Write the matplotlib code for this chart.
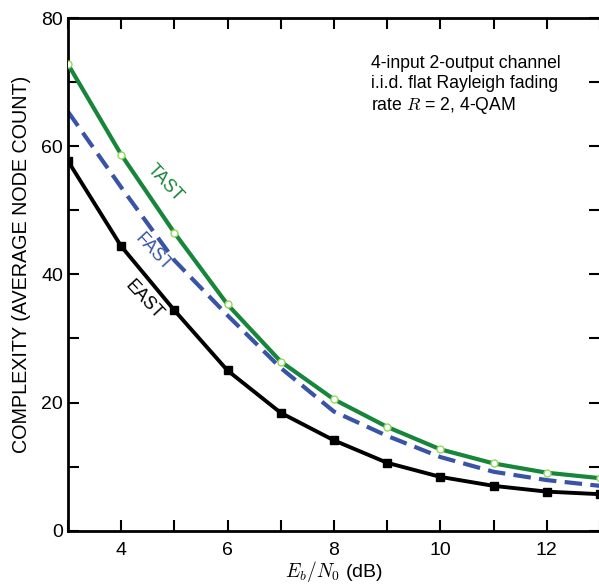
import numpy as np
import matplotlib
matplotlib.use("Agg")
import matplotlib.pyplot as plt
from matplotlib.ticker import MultipleLocator

plt.rcParams['font.family'] = ['Liberation Sans', 'DejaVu Sans']
plt.rcParams['mathtext.fontset'] = 'cm'

# Eb/N0 (dB)
snr_db = [3, 4, 5, 6, 7, 8, 9, 10, 11, 12, 13]
# average node count per detector
tast = [72.8, 58.7, 46.5, 35.3, 26.4, 20.5, 16.2, 12.7, 10.5, 9.05, 8.2]
fast = [65.4, 53.6, 42.2, 33.6, 25.4, 18.6, 14.8, 11.5, 9.2, 7.9, 7.0]
east = [57.7, 44.4, 34.4, 25.0, 18.4, 14.1, 10.6, 8.4, 7.0, 6.1, 5.7]

green = '#17853a'
blue = '#3953a6'

fig = plt.figure(figsize=(5.99, 5.85), dpi=100)
ax = fig.add_axes([0.1134, 0.0928, 0.8881, 0.8764])

ax.plot(snr_db, tast, color=green, lw=3.0, marker='o', ms=5,
        mfc='white', mec='#8fdc5a', mew=1.0, zorder=3)
ax.plot(snr_db, fast, color=blue, lw=3.0, dashes=(4.2, 2.0), zorder=2)
ax.plot(snr_db, east, color='black', lw=2.8, marker='s', ms=5.5,
        mfc='black', mec='black', zorder=2)

ax.text(4.83, 54.2, 'TAST', color=green, fontsize=13, rotation=-47,
        ha='center', va='center')
ax.text(4.61, 43.5, 'FAST', color=blue, fontsize=13, rotation=-47,
        ha='center', va='center')
ax.text(4.42, 36.0, 'EAST', color='black', fontsize=13, rotation=-47,
        ha='center', va='center')

ax.text(8.70, 74.2, '4-input 2-output channel\ni.i.d. flat Rayleigh fading\nrate $R$ = 2, 4-QAM',
        fontsize=12.7, va='top', ha='left', linespacing=1.2)

ax.set_xlim(3, 13)
ax.set_ylim(0, 80)
ax.xaxis.set_major_locator(MultipleLocator(2))
ax.xaxis.set_minor_locator(MultipleLocator(1))
ax.yaxis.set_major_locator(MultipleLocator(20))
ax.yaxis.set_minor_locator(MultipleLocator(10))
ax.tick_params(which='both', direction='in', top=True, right=True,
               width=1.5, length=8, labelsize=14)
ax.tick_params(axis='x', pad=8)
for sp in ax.spines.values():
    sp.set_linewidth(2)

ax.set_xlabel('$E_b/N_0$ (dB)', fontsize=14, labelpad=0)
ax.set_ylabel('COMPLEXITY (AVERAGE NODE COUNT)', fontsize=14.2)
ax.yaxis.set_label_coords(-0.07, 0.52)

fig.savefig('out.png', dpi=100)
